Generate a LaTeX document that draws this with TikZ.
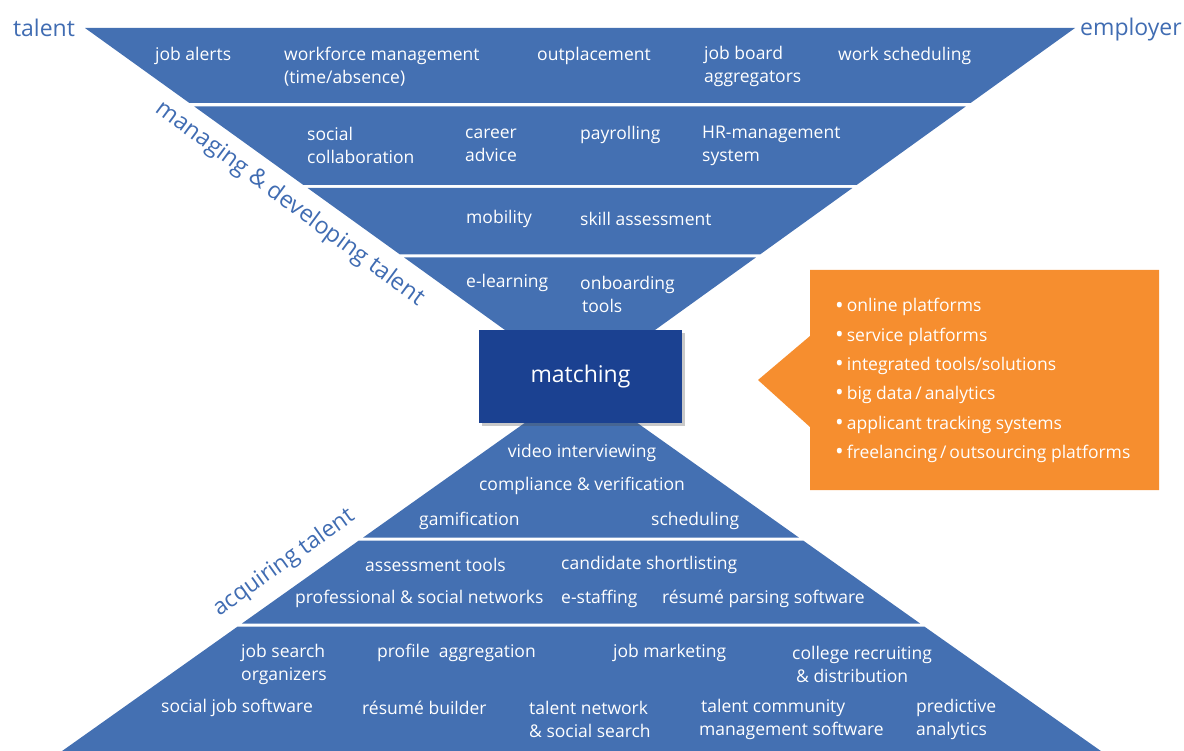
\documentclass[tikz,border=0pt]{standalone}
\usepackage{fontspec}
\setmainfont{Open Sans}
\usetikzlibrary{shadows}
\definecolor{bandblue}{RGB}{68,112,178}
\definecolor{matchblue}{RGB}{27,65,145}
\definecolor{calloutorange}{RGB}{246,142,47}
\definecolor{labelblue}{RGB}{64,108,178}
\newcommand{\bul}{\raisebox{-1.2pt}{\fontsize{23}{23}\selectfont\textbullet}\hspace{3pt}}
\begin{document}
\begin{tikzpicture}[x=1pt,y=-1pt,
  band/.style={fill=bandblue, draw=none},
  bandtext/.style={text=white, font=\fontsize{17.5}{23}\selectfont, inner sep=0pt, align=left, anchor=west, yshift=-2.5pt},
  centertext/.style={bandtext, anchor=center, align=center},
  sidelabel/.style={text=labelblue, font=\fontsize{23}{26}\selectfont, inner sep=0pt},
  matchbox/.style={fill=matchblue, text=white, font=\fontsize{23}{26}\selectfont,
    minimum width=203pt, minimum height=93pt, inner sep=0pt,
    drop shadow={shadow xshift=2.5pt, shadow yshift=-3pt, opacity=0.3, fill=black!70}},
  listtext/.style={text=white, font=\fontsize{17.5}{29.3}\selectfont, inner sep=0pt, align=left, anchor=west, yshift=-2.5pt}
]
\useasboundingbox (0,0) rectangle (1184,751);
% top funnel
\path[band] (85,28) -- (1075,28) -- (970.6,103) -- (189.4,103) -- cycle;
\path[band] (194.3,106.5) -- (965.7,106.5) -- (856.6,185) -- (303.4,185) -- cycle;
\path[band] (307.6,188) -- (852.4,188) -- (760,254.5) -- (400,254.5) -- cycle;
\path[band] (404.2,257.5) -- (755.8,257.5) -- (580,384) -- cycle;
% bottom funnel
\path[band] (581,383) -- (798.8,537.5) -- (363.2,537.5) -- cycle;
\path[band] (358.9,540.5) -- (803.1,540.5) -- (920.1,623.5) -- (241.9,623.5) -- cycle;
\path[band] (237.7,626.5) -- (924.3,626.5) -- (1100.9,751) -- (62.1,751) -- cycle;
% callout
\path[fill=calloutorange] (810,270) -- (1159,270) -- (1159,490) -- (810,490) -- (810,427) -- (758,380) -- (810,336) -- cycle;

% side labels
\node[sidelabel] (talent) at (44,28) {talent};
\node[sidelabel] (employer) at (1131,30) {employer};
\node[sidelabel, rotate=-36.5, font=\fontsize{23.5}{26}\selectfont] (managing) at (290,204) {managing \& developing talent};
\node[sidelabel, rotate=35.5] (acquiring) at (284,563) {acquiring talent};

% matching
\node[matchbox] (matching) at (580.5,376.5) {matching};

% top band texts
\node[bandtext] (jobalerts) at (155,53) {job alerts};
\node[bandtext] (workforce) at (284,64) {workforce management\\(time/absence)};
\node[bandtext] (outplacement) at (537,53) {outplacement};
\node[bandtext] (jobboard) at (704,64) {job board\\aggregators};
\node[bandtext] (worksched) at (838,53) {work scheduling};
\node[bandtext] (social) at (307,143) {social\\collaboration};
\node[bandtext] (career) at (465,143) {career\\advice};
\node[bandtext] (payrolling) at (580,132) {payrolling};
\node[bandtext] (hrm) at (702,143) {HR-management\\system};
\node[bandtext] (mobility) at (466,216) {mobility};
\node[bandtext] (skill) at (580,216) {skill assessment};
\node[bandtext] (elearning) at (466,280) {e-learning};
\node[bandtext] (onboarding) at (580,292) {onboarding\\\hspace{2pt}tools};

% bottom band texts
\node[centertext] (video) at (582,450) {video interviewing};
\node[centertext] (compliance) at (582,483) {compliance \& verification};
\node[bandtext] (gamification) at (419,518) {gamification};
\node[bandtext] (scheduling) at (651,518) {scheduling};
\node[bandtext] (assessment) at (365,562) {assessment tools};
\node[bandtext] (candidate) at (561,562) {candidate shortlisting};
\node[bandtext] (professional) at (295,596) {professional \& social networks};
\node[bandtext] (estaffing) at (561,596) {e-staffing};
\node[bandtext] (resumeparsing) at (662,596) {résumé parsing software};
\node[bandtext] (jobsearch) at (241,662) {job search\\organizers};
\node[bandtext] (profile) at (377,650) {profile\ \ aggregation};
\node[bandtext] (jobmarketing) at (613,650) {job marketing};
\node[bandtext] (college) at (792,662) {college recruiting\\\hspace{4pt}\& distribution};
\node[bandtext] (socialjob) at (161,705) {social job software};
\node[bandtext] (resumebuilder) at (362,705) {résumé builder};
\node[bandtext] (talentnetwork) at (529,717) {talent network\\\& social search};
\node[bandtext] (talentcommunity) at (699,717) {\hspace{2pt}talent community\\management software};
\node[bandtext] (predictive) at (916,717) {predictive\\analytics};

% callout list
\node[listtext] (platforms) at (835,378) {\bul online platforms\\
\bul service platforms\\
\bul integrated tools/solutions\\
\bul big data\,/\,analytics\\
\bul applicant tracking systems\\
\bul freelancing\,/\,outsourcing platforms};
\end{tikzpicture}
\end{document}
